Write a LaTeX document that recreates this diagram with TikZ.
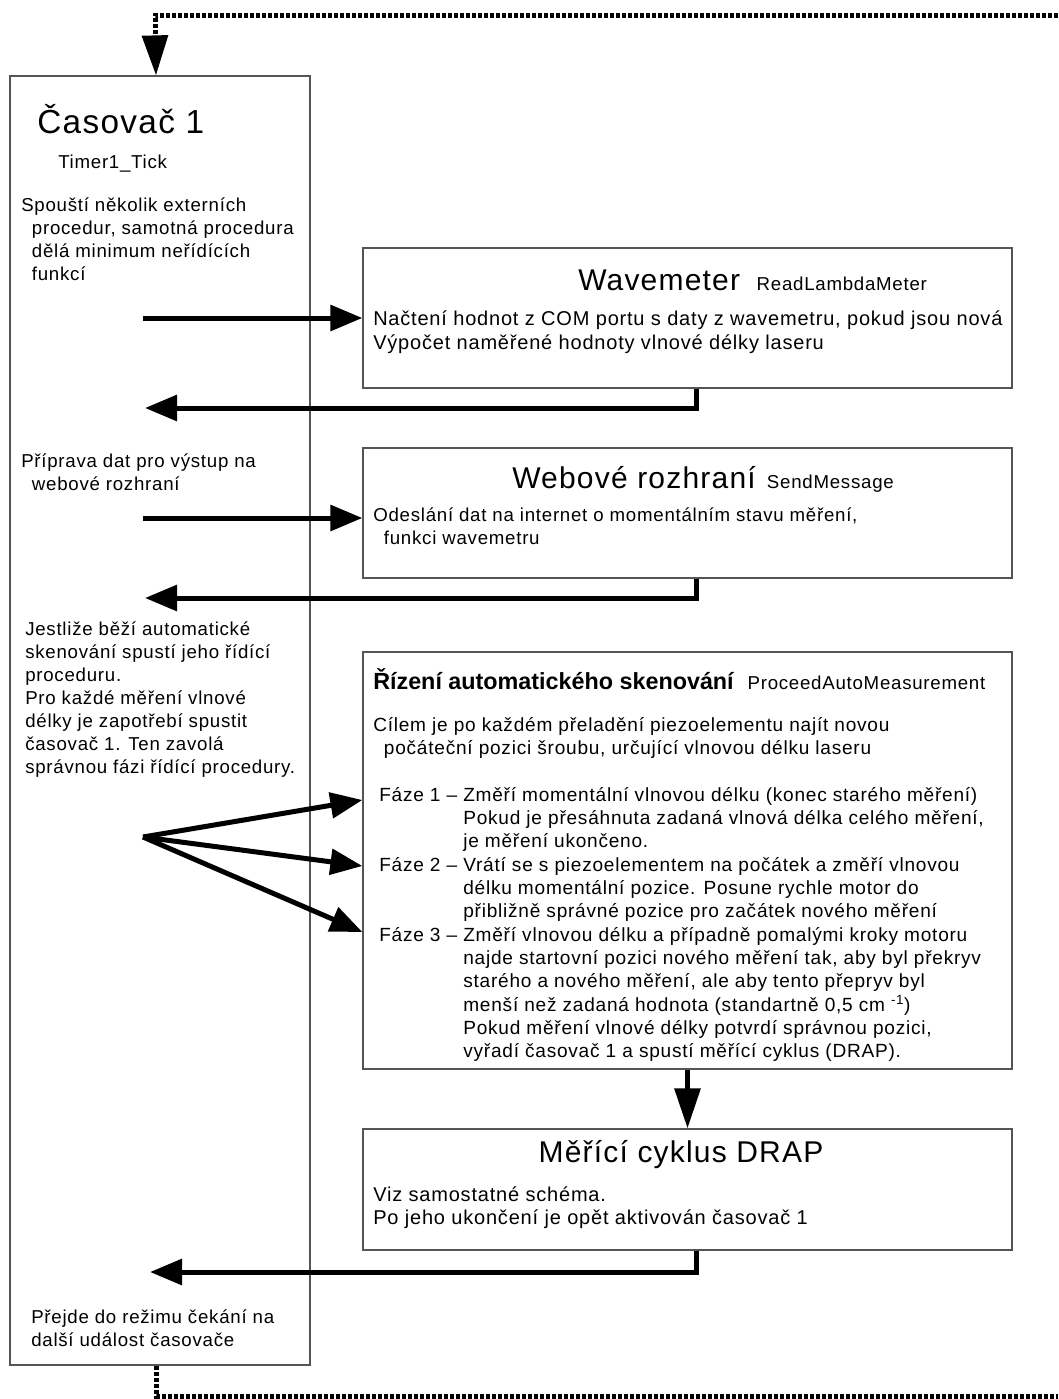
\documentclass[tikz,border=0pt]{standalone}
\usepackage{fontspec}
\setmainfont{Liberation Sans}[LetterSpace=4]
\newfontfamily\headfont{Liberation Sans}
\usetikzlibrary{arrows.meta,positioning,fit}
\definecolor{edgegray}{HTML}{555555}
\newcommand{\fazeind}{\phantom{Fáze 1 – }}

\begin{document}
\begin{tikzpicture}[x=0.75pt,y=-0.75pt,
  box/.style={draw=edgegray,line width=0.9pt,inner sep=0pt},
  side/.style={font=\fontsize{14}{17.25}\selectfont,inner sep=0pt,align=left,anchor=north west,execute at begin node=\strut},
  body/.style={font=\fontsize{15}{17.4}\selectfont,inner sep=0pt,align=left,anchor=north west,execute at begin node=\strut},
  title/.style={font=\fontsize{22.5}{26}\selectfont,inner sep=0pt,anchor=base west},
  proc/.style={font=\fontsize{14}{17}\selectfont,inner sep=0pt,anchor=base west},
  flow/.style={-{Triangle[length=24pt,width=19pt]},line width=3.75pt},
  drop/.style={-{Triangle[length=30pt,width=19pt]},line width=3.75pt},
  loop/.style={line width=3.75pt,dash pattern=on 3pt off 1.5pt}
]
\useasboundingbox (0,0) rectangle (1058,1399);

% timer procedure
\node[box,fit={(10,76) (310,1365)}] (timer) {};
\node[title,font=\fontsize{25}{28}\selectfont] (timertitle) at (37,133) {Časovač 1};
\node[proc] (timerproc) at (58,168) {Timer1\_Tick};
\node[side] (timerdesc) at (21,197) {Spouští několik externích\\\hspace*{8pt}procedur, samotná procedura\\\hspace*{8pt}dělá minimum neřídících\\\hspace*{8pt}funkcí};
\node[side] (webprep) at (21,453) {Příprava dat pro výstup na\\\hspace*{8pt}webové rozhraní};
\node[side] (scanprep) at (25,621) {Jestliže běží automatické\\skenování spustí jeho řídící\\proceduru.\\Pro každé měření vlnové\\délky je zapotřebí spustit\\časovač 1. Ten zavolá\\správnou fázi řídící procedury.};
\node[side] (waitnote) at (31,1309) {Přejde do režimu čekání na\\další událost časovače};

% wavemeter
\node[box,fit={(363,248) (1012,388)}] (wave) {};
\node[title] (wavetitle) at (578,290) {Wavemeter};
\node[proc,base right=12pt of wavetitle] (waveproc) {ReadLambdaMeter};
\node[body] (wavetext) at (373,311) {Načtení hodnot z COM portu s daty z wavemetru, pokud jsou nová\\Výpočet naměřené hodnoty vlnové délky laseru};

% web interface
\node[box,fit={(363,448) (1012,578)}] (web) {};
\node[title] (webtitle) at (512,488) {Webové rozhraní};
\node[proc,base right=8pt of webtitle] (webproc) {SendMessage};
\node[side] (webtext) at (373,507) {Odeslání dat na internet o momentálním stavu měření,\\\hspace*{8pt}funkci wavemetru};

% automatic scanning
\node[box,fit={(363,652) (1012,1069)}] (ctrl) {};
\node[inner sep=0pt,anchor=base west,font=\headfont\bfseries\fontsize{17.5}{20}\selectfont] (ctrltitle) at (373,689) {Řízení automatického skenování};
\node[proc,base right=10pt of ctrltitle] (ctrlproc) {ProceedAutoMeasurement};
\node[side,font=\fontsize{14.3}{17.5}\selectfont] (ctrlgoal) at (373,717) {Cílem je po každém přeladění piezoelementu najít novou\\\hspace*{8pt}počáteční pozici šroubu, určující vlnovou délku laseru};
\node[side,font=\fontsize{14.3}{17.5}\selectfont] (phases) at (379,787) {Fáze 1 – Změří momentální vlnovou délku (konec starého měření)\\\fazeind Pokud je přesáhnuta zadaná vlnová délka celého měření,\\\fazeind je měření ukončeno.\\Fáze 2 – Vrátí se s piezoelementem na počátek a změří vlnovou\\\fazeind délku momentální pozice. Posune rychle motor do\\\fazeind přibližně správné pozice pro začátek nového měření\\Fáze 3 – Změří vlnovou délku a případně pomalými kroky motoru\\\fazeind najde startovní pozici nového měření tak, aby byl překryv\\\fazeind starého a nového měření, ale aby tento přepryv byl\\\fazeind menší než zadaná hodnota (standartně 0,5 cm \textsuperscript{-1})\\\fazeind Pokud měření vlnové délky potvrdí správnou pozici,\\\fazeind vyřadí časovač 1 a spustí měřící cyklus (DRAP).};

% measuring cycle
\node[box,fit={(363,1129) (1012,1250)}] (drap) {};
\node[title,anchor=base] (draptitle) at (681,1162) {Měřící cyklus DRAP};
\node[body] (draptext) at (373,1186) {Viz samostatné schéma.\\Po jeho ukončení je opět aktivován časovač 1};

% connectors
\coordinate (feed1) at (143,318);
\coordinate (feed2) at (143,518);
\coordinate (fan) at (143,837);
\coordinate (back1) at (145,408);
\coordinate (back2) at (145,598);
\coordinate (back3) at (150,1272);
\coordinate (loopstart) at (1058,15);
\coordinate (loopdrop) at (155,36);
\coordinate (loopend) at (1058,1396);

\draw[flow] (feed1) -- (feed1 -| wave.west);
\draw[flow] ([xshift=7pt]wave.south) |- (back1);
\draw[flow] (feed2) -- (feed2 -| web.west);
\draw[flow] ([xshift=7pt]web.south) |- (back2);
\foreach \ty in {800,866,932}
  \draw[flow] (fan) -- (ctrl.west |- 0,\ty);
\draw[drop] (ctrl.south) -- (drap.north);
\draw[flow] ([xshift=7pt]drap.south) |- (back3);
\draw[loop] (loopstart) -| (loopdrop);
\draw[drop] (loopdrop) -- ([xshift=-3pt]timer.north);
\draw[loop] ([xshift=-3pt]timer.south) |- (loopend);
\end{tikzpicture}
\end{document}
